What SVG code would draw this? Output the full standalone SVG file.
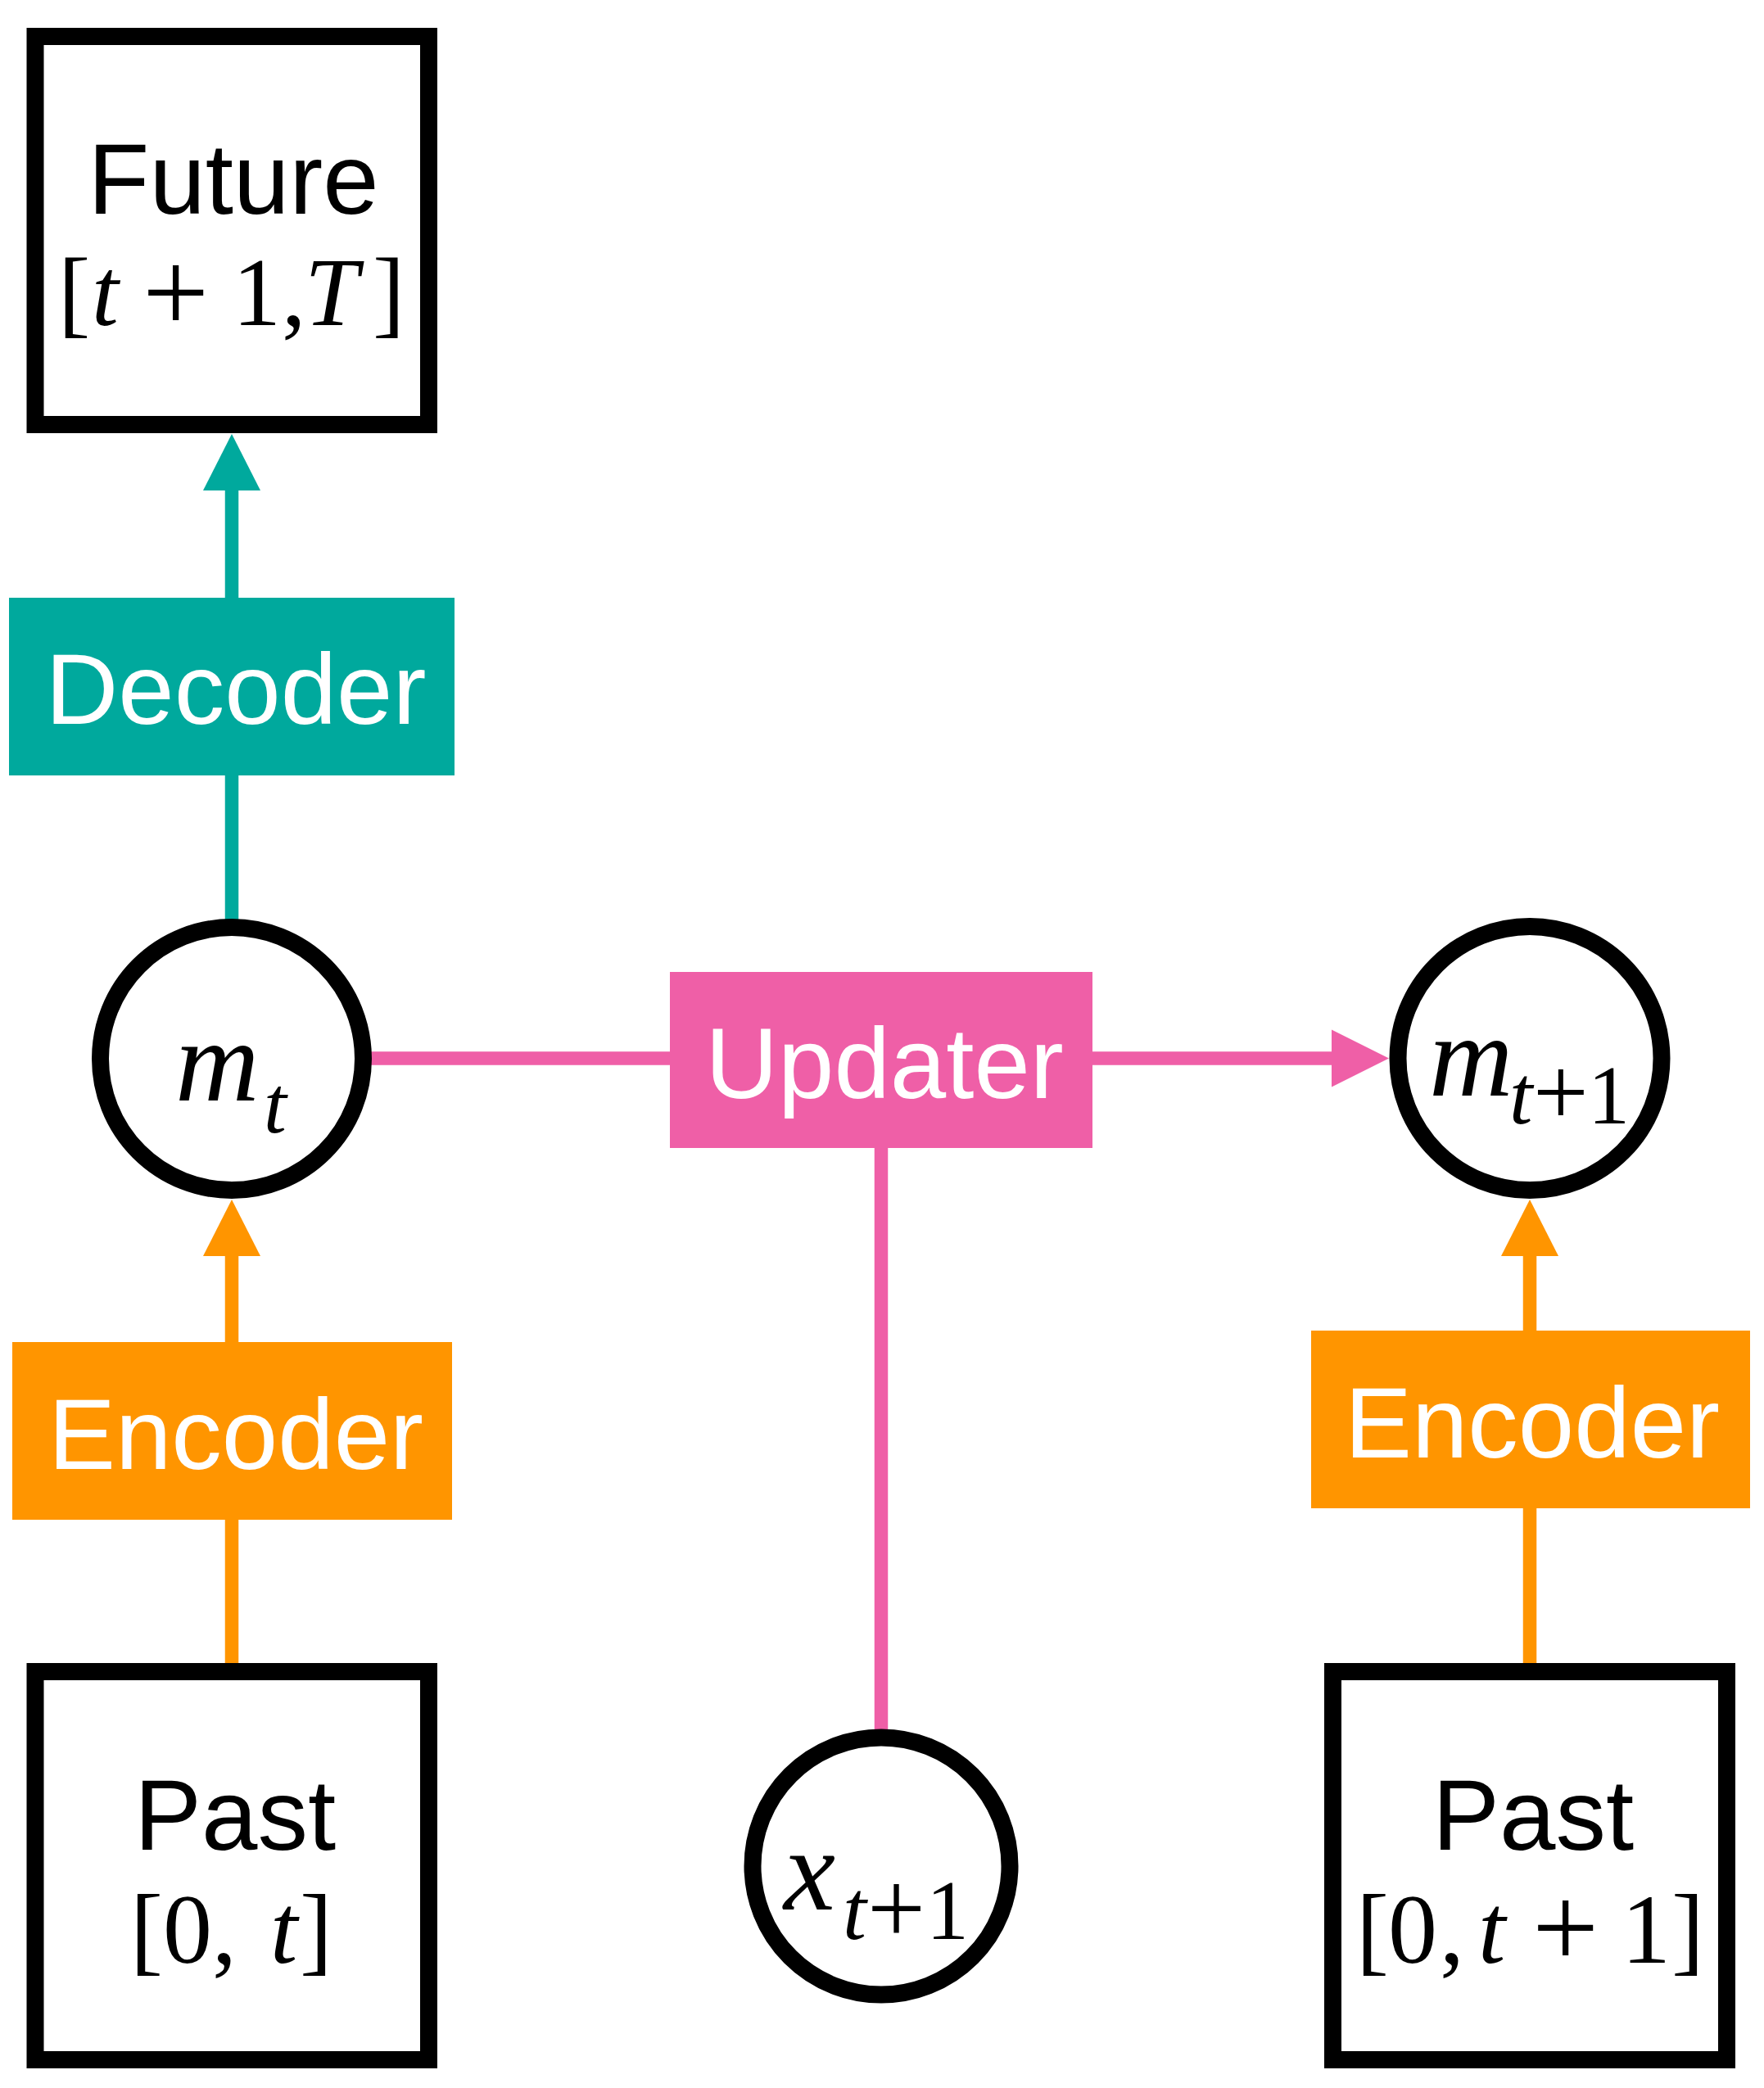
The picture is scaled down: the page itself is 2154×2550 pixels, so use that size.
<svg xmlns="http://www.w3.org/2000/svg" width="2154" height="2550" viewBox="0 0 2154 2550">
<style>
.box{fill:#fff;stroke:#000;stroke-width:21}
.circ{fill:#fff;stroke:#000;stroke-width:21}
.lbl{font-family:"Liberation Sans",Arial,sans-serif;font-size:123px;text-anchor:middle}
.wl{fill:#fff}
.bl{fill:#000}
.math{font-family:"Liberation Serif","Times New Roman",serif;fill:#000}
.it{font-style:italic}
.teal{stroke:#00A99D;stroke-width:16.5;fill:none}
.pink{stroke:#EF5FA7;stroke-width:16.5;fill:none}
.orange{stroke:#FF9500;stroke-width:16.5;fill:none}
.tealf{fill:#00A99D}
.pinkf{fill:#EF5FA7}
.orangef{fill:#FF9500}
</style>
<rect width="2154" height="2550" fill="#fff"/>
<g id="connectors">
<line class="teal" x1="283" y1="730" x2="283" y2="598"/>
<polygon class="tealf" points="283,530 248,599 318,599"/>
<line class="teal" x1="283" y1="947" x2="283" y2="1124"/>
<line class="pink" x1="452" y1="1292.5" x2="819" y2="1292.5"/>
<line class="pink" x1="1333" y1="1292.5" x2="1627" y2="1292.5"/>
<polygon class="pinkf" points="1696,1292.5 1626,1257.5 1626,1327.5"/>
<line class="pink" x1="1076" y1="1401" x2="1076" y2="2114"/>
<line class="orange" x1="283" y1="1640" x2="283" y2="1533"/>
<polygon class="orangef" points="283,1465 248,1534 318,1534"/>
<line class="orange" x1="283" y1="1855" x2="283" y2="2032"/>
<line class="orange" x1="1868" y1="1626" x2="1868" y2="1533"/>
<polygon class="orangef" points="1868,1465 1833,1534 1903,1534"/>
<line class="orange" x1="1868" y1="1841" x2="1868" y2="2032"/>
</g>
<g id="future">
<rect class="box" x="43" y="44.5" width="480.5" height="474"/>
<text class="lbl bl" x="285" y="261" font-size="121">Future</text>
<text class="math" y="397" font-size="118"><tspan x="71">[</tspan><tspan x="112" class="it">t</tspan><tspan x="174" y="404.5" font-size="144">+</tspan><tspan x="284" y="397">1</tspan><tspan x="344">,</tspan><tspan x="372" class="it">T</tspan><tspan x="455">]</tspan></text>
</g>
<g id="decoder">
<rect class="tealf" x="11" y="730" width="544" height="217"/>
<text class="lbl wl" x="288" y="884">Decoder</text>
</g>
<g id="m_t">
<circle class="circ" cx="283" cy="1293" r="160.5"/>
<text class="math it" font-size="142" x="214" y="1344">m</text>
<text class="math it" font-size="100" x="322" y="1383">t</text>
</g>
<g id="updater">
<rect class="pinkf" x="818" y="1187" width="516" height="215"/>
<text class="lbl wl" x="1080" y="1341">Updater</text>
</g>
<g id="m_t1">
<circle class="circ" cx="1868" cy="1292.5" r="161"/>
<text class="math it" font-size="142" x="1745" y="1338">m</text>
<text class="math" y="1372" font-size="102"><tspan class="it" x="1843">t</tspan><tspan x="1872" y="1374" font-size="120">+</tspan><tspan x="1939" y="1372">1</tspan></text>
</g>
<g id="encoder_left">
<rect class="orangef" x="15" y="1639" width="537" height="217"/>
<text class="lbl wl" x="288" y="1794">Encoder</text>
</g>
<g id="encoder_right">
<rect class="orangef" x="1601" y="1625" width="536" height="217"/>
<text class="lbl wl" x="1871" y="1780">Encoder</text>
</g>
<g id="past_left">
<rect class="box" x="43" y="2041.5" width="480.5" height="474"/>
<text class="lbl bl" x="287" y="2259" font-size="122">Past</text>
<text class="math" y="2397" font-size="120"><tspan x="159">[</tspan><tspan x="199">0</tspan><tspan x="259">,</tspan><tspan x="330" class="it">t</tspan><tspan x="366">]</tspan></text>
</g>
<g id="x_t1">
<circle class="circ" cx="1076" cy="2279" r="157"/>
<text class="math it" font-size="142" x="957" y="2332">x</text>
<text class="math" y="2368" font-size="104"><tspan class="it" x="1029">t</tspan><tspan x="1059" y="2373" font-size="126">+</tspan><tspan x="1131" y="2368">1</tspan></text>
</g>
<g id="past_right">
<rect class="box" x="1627.5" y="2041.5" width="481" height="474"/>
<text class="lbl bl" x="1872" y="2259" font-size="122">Past</text>
<text class="math" y="2397" font-size="120"><tspan x="1656">[</tspan><tspan x="1695">0</tspan><tspan x="1758">,</tspan><tspan x="1805" class="it">t</tspan><tspan x="1871" y="2402" font-size="144">+</tspan><tspan x="1980" y="2397">1</tspan><tspan x="2041">]</tspan></text>
</g>
</svg>
